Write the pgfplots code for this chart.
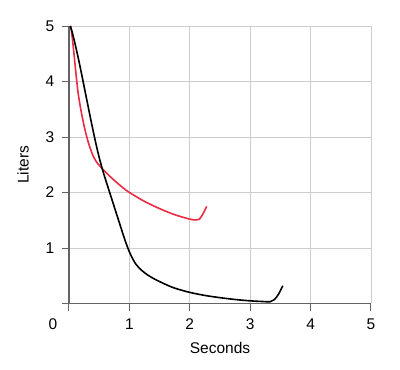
\documentclass[border=0pt]{standalone}
\usepackage{pgfplots}
\pgfplotsset{compat=1.18}
\usepackage{fontspec}
\setmainfont{Liberation Sans}
\definecolor{myred}{RGB}{236,42,66}
\definecolor{axgray}{RGB}{100,100,100}
\definecolor{gridgray}{RGB}{205,205,205}
\begin{document}
\begin{tikzpicture}[x=1pt,y=1pt]
\useasboundingbox (-69,-66.5) rectangle (331,303.5);
\begin{axis}[
  at={(0,0)}, anchor=south west,
  scale only axis,
  width=302pt, height=277.5pt,
  xmin=0, xmax=5, ymin=0, ymax=5,
  axis x line*=bottom, axis y line*=left,
  axis line style={axgray, line width=1.6pt, -},
  xtick={1,2,3,4,5},
  ytick={0,1,2,3,4,5},
  yticklabels={,1,2,3,4,5},
  extra x ticks={0},
  extra x tick labels={0},
  extra x tick style={grid=none, xticklabel style={xshift=-16pt}},
  /pgf/number format/assume math mode=true,
  tick style={axgray, line width=1pt},
  tick align=outside,
  major tick length=7pt,
  xtick pos=bottom, ytick pos=left,
  grid=major,
  major grid style={gridgray, line width=0.9pt},
  tick label style={font=\fontsize{15.5}{17}\selectfont, black},
  xticklabel style={anchor=center, yshift=-14pt},
  yticklabel style={anchor=center, xshift=-12pt},
  xlabel={Seconds},
  ylabel={Liters},
  every axis x label/.style={at={(axis description cs:0.5,-0.160)}, anchor=center, font=\fontsize{15.5}{17}\selectfont},
  every axis y label/.style={at={(axis description cs:-0.152,0.5)}, anchor=center, rotate=90, font=\fontsize{15.5}{17}\selectfont},
  clip=false,
]
\addplot[myred, line width=1.6pt, smooth] coordinates {
(0.03,5.0) (0.05,4.83) (0.07,4.63) (0.09,4.42) (0.11,4.2) (0.13,3.99)
(0.15,3.8) (0.17,3.66) (0.20,3.47) (0.25,3.2) (0.30,2.98) (0.35,2.80)
(0.40,2.66) (0.45,2.56) (0.50,2.49) (0.55,2.43) (0.65,2.32) (0.78,2.19)
(0.9,2.08) (1.0,2.0) (1.25,1.84) (1.5,1.71) (1.75,1.60) (2.0,1.52)
(2.1,1.505) (2.16,1.52) (2.22,1.62) (2.28,1.75)
};
\addplot[black, line width=1.6pt, smooth] coordinates {
(0.02,5.0) (0.05,4.9) (0.10,4.68) (0.15,4.44) (0.20,4.18) (0.25,3.91)
(0.30,3.64) (0.35,3.37) (0.40,3.11) (0.45,2.86) (0.50,2.63) (0.55,2.43)
(0.60,2.25) (0.65,2.08) (0.70,1.91) (0.75,1.74) (0.80,1.57) (0.85,1.40)
(0.90,1.23) (0.95,1.07) (1.00,0.93) (1.05,0.815) (1.10,0.72) (1.15,0.655)
(1.20,0.60) (1.25,0.555) (1.30,0.515) (1.40,0.45) (1.50,0.395) (1.67,0.31)
(1.80,0.26) (2.0,0.20) (2.25,0.145) (2.5,0.105) (2.75,0.072) (3.0,0.048)
(3.2,0.036) (3.33,0.032) (3.4,0.07) (3.47,0.17) (3.54,0.32)
};
\end{axis}
\end{tikzpicture}
\end{document}
